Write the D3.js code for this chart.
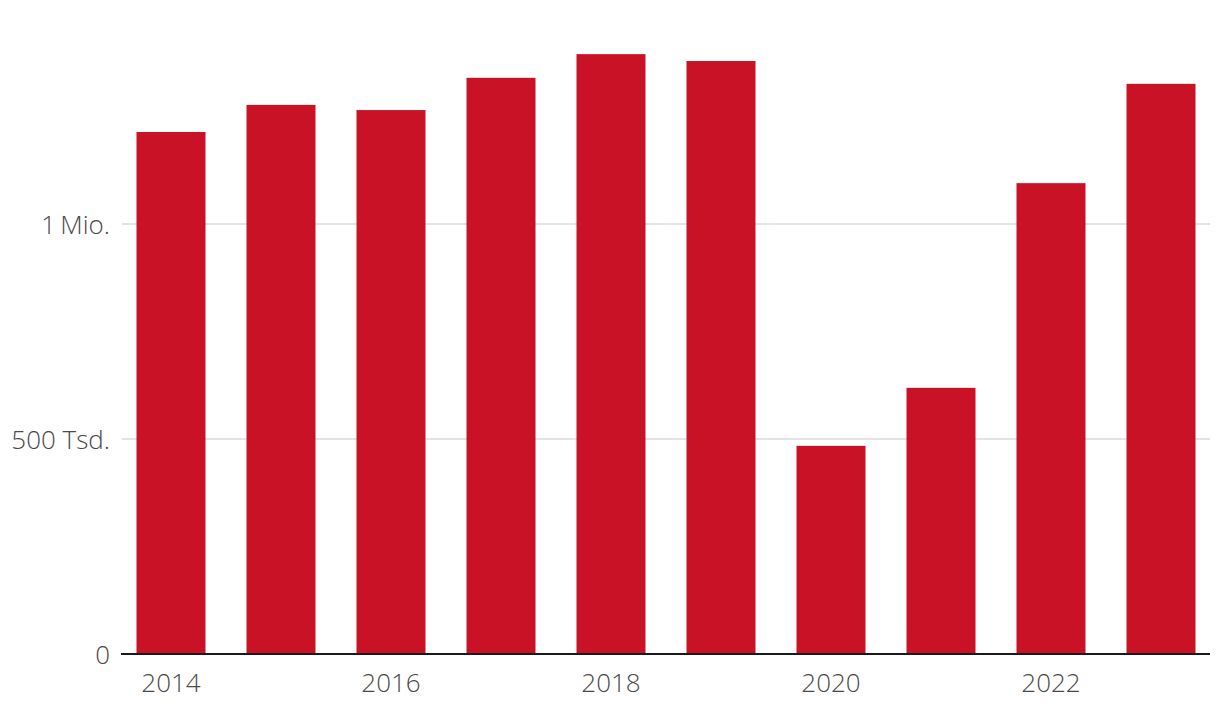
<!DOCTYPE html>
<html><head><meta charset="utf-8">
<script src="https://cdn.jsdelivr.net/npm/d3@7"></script>
<style>body{margin:0;background:#fff}svg{display:block}</style>
</head><body>
<svg id="c" width="1220" height="718"></svg>
<script>
const years = ["2014","2015","2016","2017","2018","2019","2020","2021","2022","2023"];
const values = [1214000,1277000,1265000,1340000,1395000,1379000,484000,619000,1095000,1326000];
const yTicks = [0,500000,1000000];
const yTickLabels = ["0","500 Tsd.","1\u2009Mio."];
const xTickLabels = ["2014","2016","2018","2020","2022"];

const svg = d3.select("#c");
const x = d3.scaleBand().domain(years).range([122,1210]).paddingInner(0.3727).paddingOuter(0.1318);
const y = d3.scaleLinear().domain([0,1000000]).range([654,224]);
const font = "'Open Sans', sans-serif";

svg.append("g").selectAll("line").data(yTicks.slice(1)).join("line")
  .attr("x1",122).attr("x2",1210).attr("y1",d=>y(d)).attr("y2",d=>y(d))
  .attr("stroke","#e3e3e3").attr("stroke-width",2);

svg.append("g").selectAll("rect").data(values).join("rect")
  .attr("x",(d,i)=>x(years[i])).attr("width",x.bandwidth())
  .attr("y",d=>y(d)).attr("height",d=>y(0)-y(d)).attr("fill","#c91226");

svg.append("line").attr("x1",121).attr("x2",1210).attr("y1",y(0)).attr("y2",y(0))
  .attr("stroke","#1a1a1a").attr("stroke-width",2);

svg.append("g").selectAll("text").data(yTicks).join("text")
  .attr("x",110).attr("y",d=>y(d)+1).attr("dy","0.36em").attr("text-anchor","end")
  .attr("font-family",font).attr("font-size",26).attr("font-weight",300).attr("fill","#4a4a4a")
  .text((d,i)=>yTickLabels[i]);

svg.append("g").selectAll("text").data(xTickLabels).join("text")
  .attr("x",d=>x(d)+x.bandwidth()/2).attr("y",692).attr("text-anchor","middle")
  .attr("font-family",font).attr("font-size",26).attr("font-weight",300).attr("fill","#4a4a4a")
  .text(d=>d);
</script>
</body></html>
